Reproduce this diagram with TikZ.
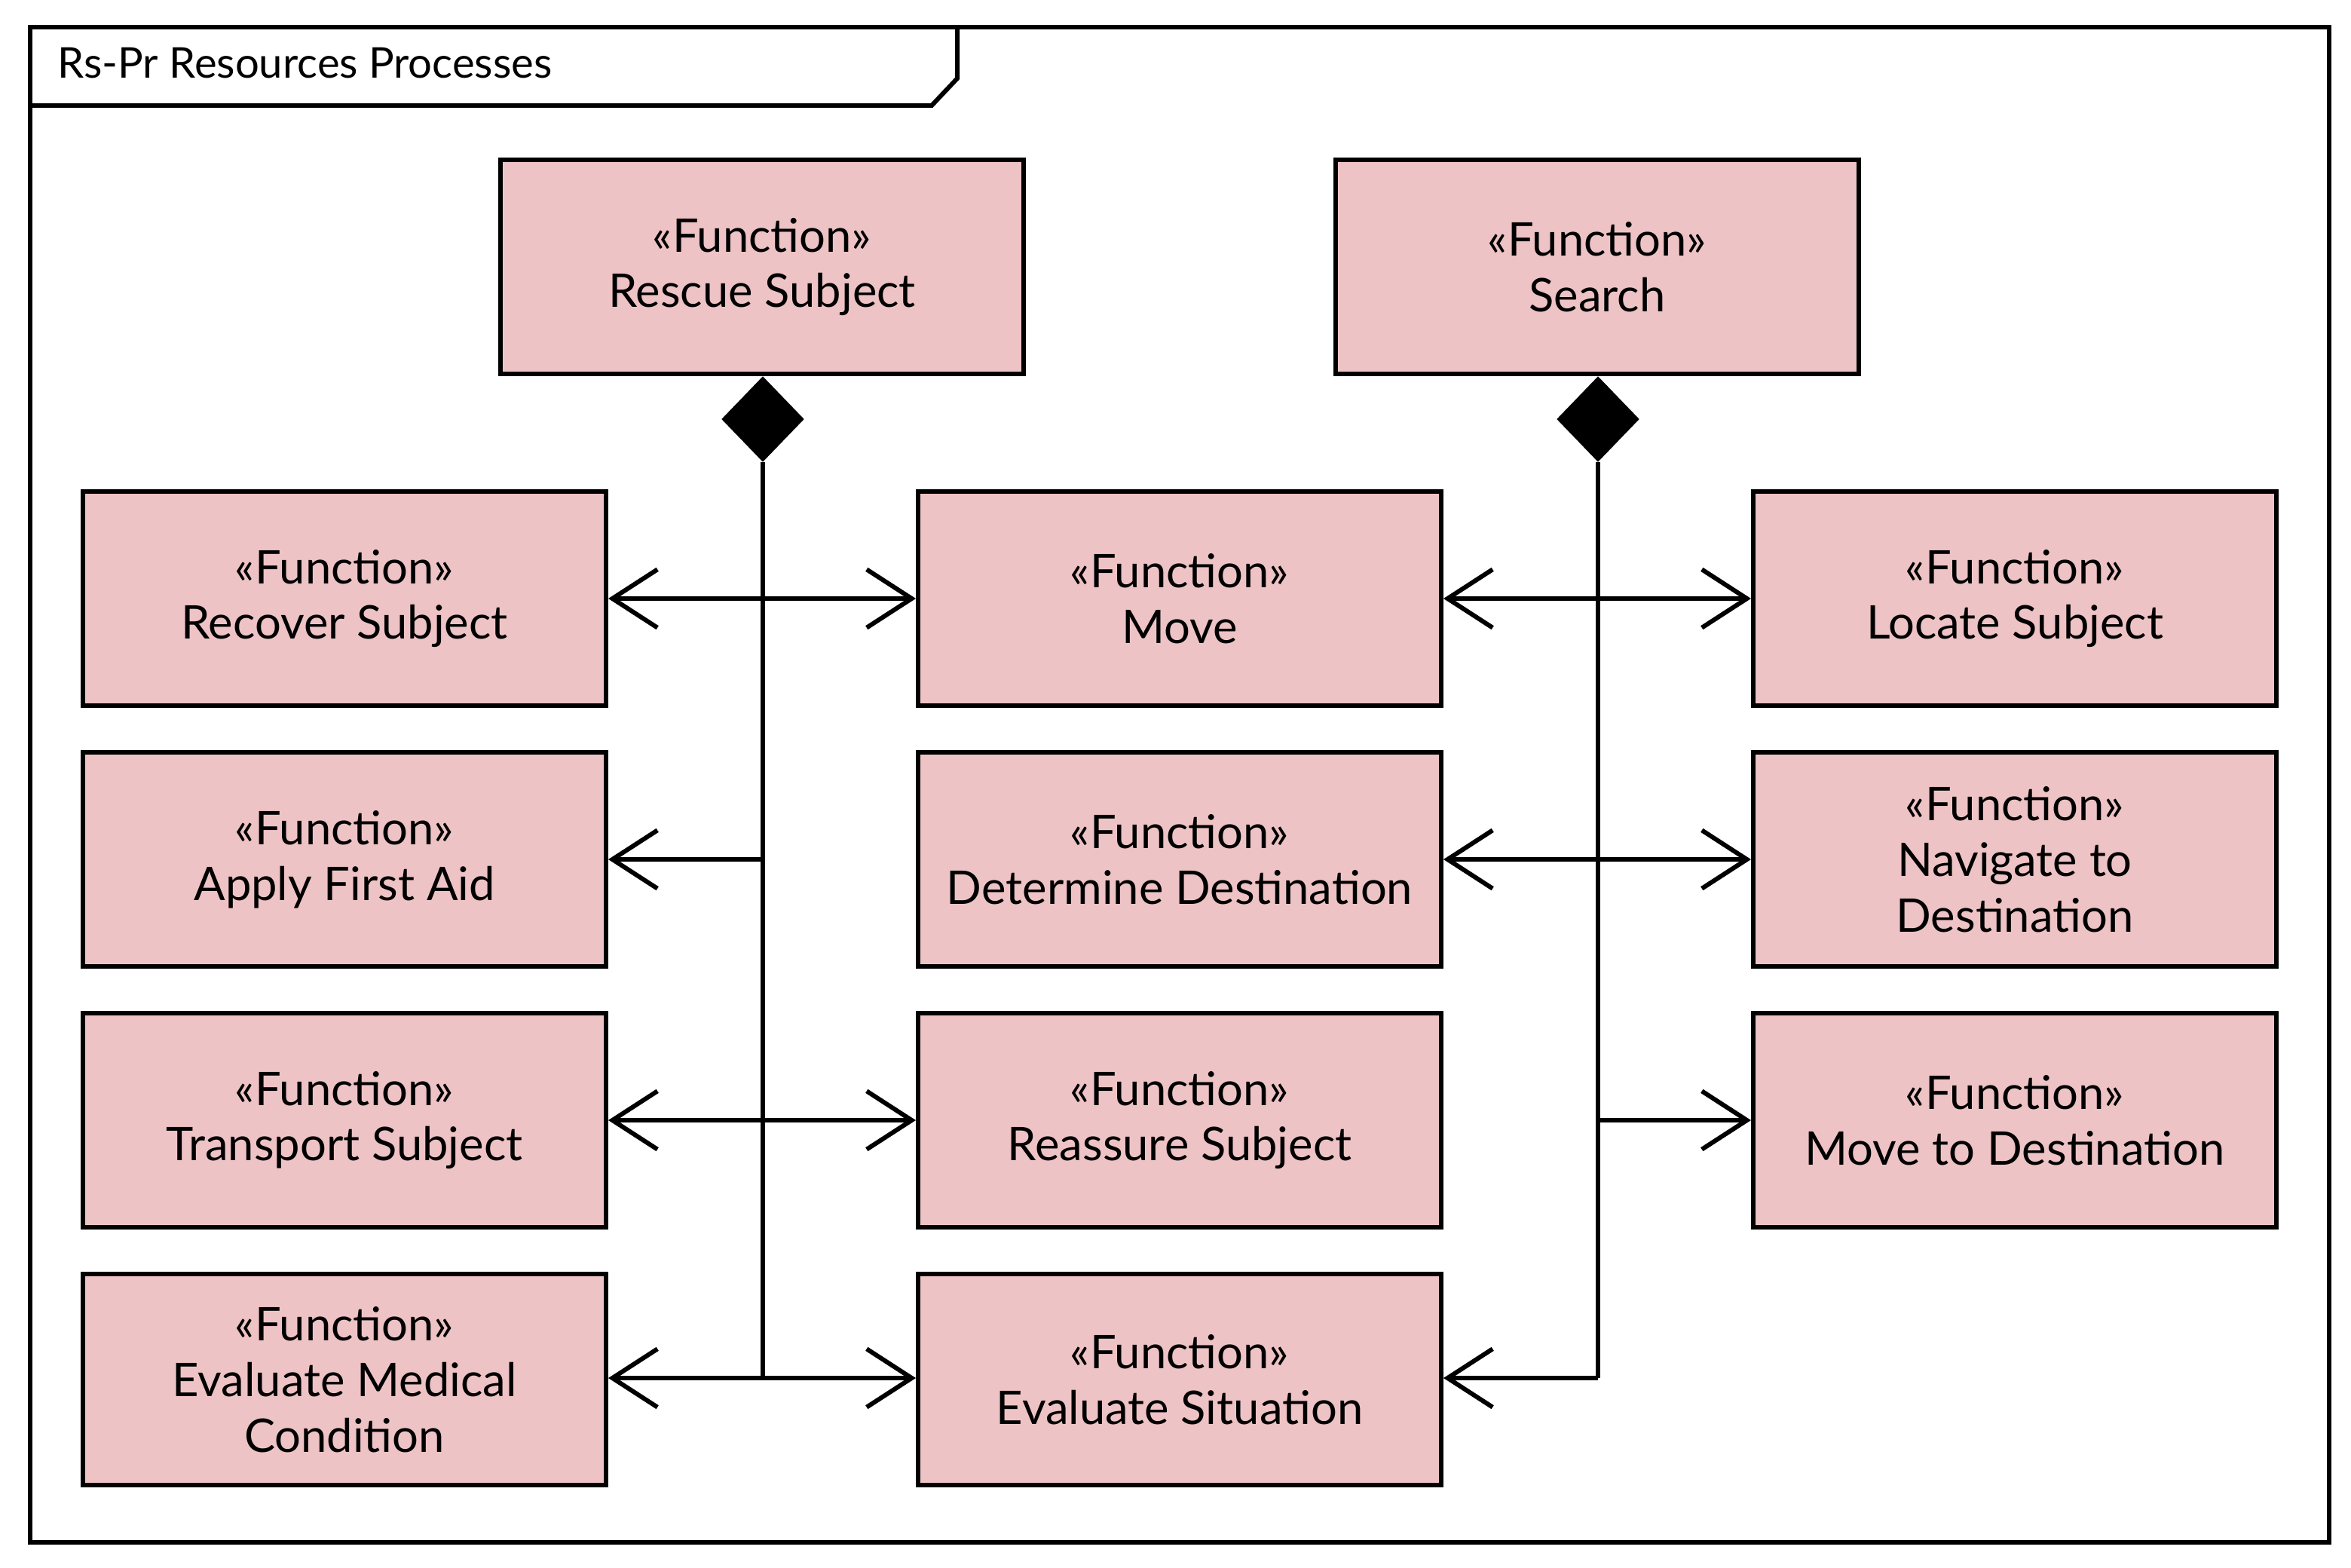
\documentclass[tikz,border=0pt]{standalone}
\usepackage{fontspec}
\setmainfont{Lato}
\usetikzlibrary{shapes.geometric,arrows.meta}
\definecolor{pinkfill}{HTML}{EEC3C5}
\begin{document}
\begin{tikzpicture}[x=0.02cm,y=-0.02cm,
  fn/.style={draw,line width=1.7pt,fill=pinkfill,minimum width=347*0.02cm,minimum height=142*0.02cm,align=center,font=\fontsize{17.5}{21}\selectfont,inner sep=2pt},
  dia/.style={diamond,fill=black,draw=black,minimum width=54*0.02cm,minimum height=56*0.02cm,inner sep=0pt},
  con/.style={line width=1.7pt},
  arr/.style={con,-{Straight Barb[length=17pt,width=22pt,line width=1.7pt]}},
  barr/.style={con,{Straight Barb[length=17pt,width=22pt,line width=1.7pt]}-{Straight Barb[length=17pt,width=22pt,line width=1.7pt]}}]
\useasboundingbox (0,0) rectangle (1559.5,1039.5);
\draw[line width=1.7pt] (20,18) rectangle (1545,1023);
\draw[line width=1.7pt] (20,70) -- (618,70) -- (635,52) -- (635,18);
\node[anchor=west,font=\fontsize{16}{19}\selectfont] (title) at (32,42) {Rs-Pr Resources Processes};
\node[fn] (rescue) at (505.5,177) {<<Function>>\\Rescue Subject};
\node[fn] (search) at (1059.5,177) {<<Function>>\\Search};
\node[fn] (recover) at (228.5,397) {<<Function>>\\Recover Subject};
\node[fn] (move) at (782.5,397) {<<Function>>\\Move};
\node[fn] (locate) at (1336.5,397) {<<Function>>\\Locate Subject};
\node[fn] (aid) at (228.5,570) {<<Function>>\\Apply First Aid};
\node[fn] (dest) at (782.5,570) {<<Function>>\\Determine Destination};
\node[fn] (nav) at (1336.5,570) {<<Function>>\\Navigate to\\Destination};
\node[fn] (transport) at (228.5,743) {<<Function>>\\Transport Subject};
\node[fn] (reassure) at (782.5,743) {<<Function>>\\Reassure Subject};
\node[fn] (movedest) at (1336.5,743) {<<Function>>\\Move to Destination};
\node[fn,minimum height=140*0.02cm] (medical) at (228.5,915) {<<Function>>\\Evaluate Medical\\Condition};
\node[fn,minimum height=140*0.02cm] (situation) at (782.5,915) {<<Function>>\\Evaluate Situation};
\node[dia] (rd) at (506,278) {};
\node[dia] (sd) at (1060,278) {};
\coordinate (r4) at (506,914);
\coordinate (r2) at (506,570);
\coordinate (s3) at (1060,743);
\coordinate (s4) at (1060,914);
\draw[con] (rd.south) -- (r4);
\draw[con] (sd.south) -- (s4);
\draw[barr] (recover.east) -- (move.west);
\draw[arr] (r2) -- (aid.east);
\draw[barr] (transport.east) -- (reassure.west);
\draw[barr] (medical.east |- r4) -- (situation.west |- r4);
\draw[barr] (move.east) -- (locate.west);
\draw[barr] (dest.east) -- (nav.west);
\draw[arr] (s3) -- (movedest.west);
\draw[arr] (s4) -- (situation.east |- s4);
\end{tikzpicture}
\end{document}
